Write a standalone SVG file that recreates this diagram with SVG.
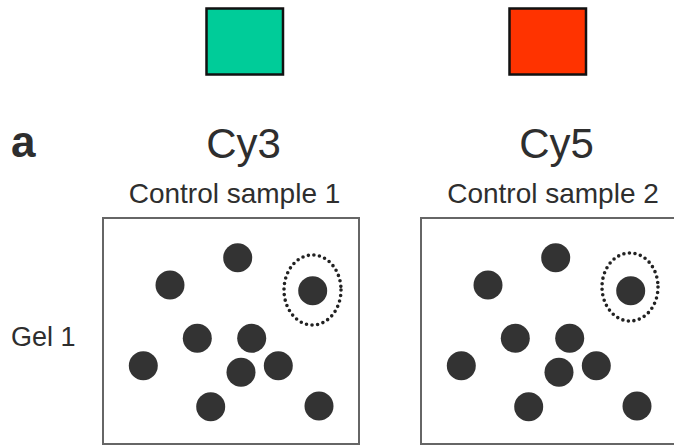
<svg xmlns="http://www.w3.org/2000/svg" width="674" height="446" viewBox="0 0 674 446">
  <style>
    .swatch { stroke: #111; stroke-width: 2.5; }
    .lbl { font-family: "Liberation Sans", Arial, sans-serif; fill: #2e2e2e; }
    .gel { fill: #fff; stroke: #666; stroke-width: 2; }
    .spot { fill: #333; }
    .ring { fill: none; stroke: #222; stroke-width: 3.6; stroke-linecap: round; stroke-dasharray: 0 5.6; }
  </style>
  <defs>
    <!-- spot pattern shared by both gels -->
    <g id="spots">
      <circle class="spot" cx="0" cy="0" r="14.5"/>
      <circle class="spot" cx="-67.7" cy="27.3" r="14.5"/>
      <circle class="spot" cx="75" cy="33" r="14.5"/>
      <circle class="spot" cx="-40.4" cy="80.6" r="14.5"/>
      <circle class="spot" cx="14" cy="80.6" r="14.5"/>
      <circle class="spot" cx="-94.4" cy="108" r="14.5"/>
      <circle class="spot" cx="3.3" cy="114.6" r="14.5"/>
      <circle class="spot" cx="40.6" cy="108" r="14.5"/>
      <circle class="spot" cx="-27" cy="149" r="14.5"/>
      <circle class="spot" cx="81.3" cy="148.3" r="14.5"/>
    </g>
  </defs>

  <!-- dye colour swatches -->
  <g id="swatch-cy3"><rect class="swatch" x="206.5" y="8.5" width="76.5" height="66" fill="#00CC99"/></g>
  <g id="swatch-cy5"><rect class="swatch" x="509.5" y="8.5" width="76.5" height="66" fill="#FF3300"/></g>

  <!-- panel letter and headings -->
  <text class="lbl" x="11" y="157" font-size="44" font-weight="bold">a</text>
  <text class="lbl" x="243.5" y="158" font-size="42" text-anchor="middle">Cy3</text>
  <text class="lbl" x="556.5" y="158" font-size="42" text-anchor="middle">Cy5</text>
  <text class="lbl" x="234.5" y="203" font-size="28" text-anchor="middle">Control sample 1</text>
  <text class="lbl" x="553" y="203" font-size="28" text-anchor="middle">Control sample 2</text>
  <text class="lbl" x="11" y="345.5" font-size="27">Gel 1</text>

  <!-- gel 1 -->
  <g id="gel1">
    <rect class="gel" x="103" y="218" width="256" height="226"/>
    <use href="#spots" x="237.7" y="257.7"/>
    <ellipse class="ring" cx="312.5" cy="290" rx="28.5" ry="35"/>
  </g>

  <!-- gel 2 -->
  <g id="gel2">
    <rect class="gel" x="421" y="218" width="256" height="226"/>
    <use href="#spots" x="555.7" y="257.7"/>
    <ellipse class="ring" cx="630" cy="287" rx="28" ry="34"/>
  </g>
</svg>
